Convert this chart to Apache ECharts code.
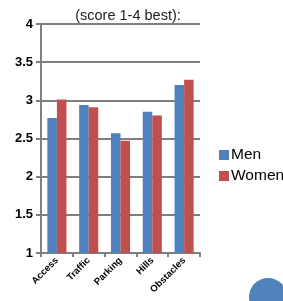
<!DOCTYPE html>
<html><head><meta charset="utf-8">
<script src="https://cdn.jsdelivr.net/npm/echarts@6/dist/echarts.min.js"></script>
<style>html,body{margin:0;padding:0;background:#fff}#c{width:283px;height:301px}</style>
</head><body><div id="c"></div>
<script>
const categories = ['Access', 'Traffic', 'Parking', 'Hills', 'Obstacles'];
const men = [2.77, 2.94, 2.57, 2.85, 3.20];
const women = [3.01, 2.91, 2.47, 2.80, 3.27];
const seriesNames = ['Men', 'Women'];
const titleText = '(score 1-4 best):';

const chart = echarts.init(document.getElementById('c'), null, {renderer: 'canvas'});
const font = 'Liberation Sans, Arial, sans-serif';
chart.setOption({
  animation: false,
  title: {text: titleText, left: 123, top: 3, textAlign: 'center',
    textStyle: {fontFamily: font, fontSize: 14.5, fontWeight: 'normal', color: '#222'}},
  legend: {orient: 'vertical', left: 214, top: 142, itemWidth: 10, itemHeight: 10, itemGap: 5,
    icon: 'rect', data: seriesNames,
    textStyle: {fontFamily: font, fontSize: 15.5, color: '#000', padding: [0,0,0,-3]}},
  grid: {left: 41, right: 83, top: 24, bottom: 48, containLabel: false},
  xAxis: {type: 'category', data: categories,
    axisLine: {lineStyle: {color: '#7f7f7f', width: 2}},
    axisTick: {show: true, length: 4, lineStyle: {color: '#7f7f7f', width: 2}},
    axisLabel: {rotate: 45, fontFamily: font, fontSize: 9.5, fontWeight: 'bold', color: '#000', margin: 6}},
  yAxis: {type: 'value', min: 1, max: 4, interval: 0.5,
    axisLine: {show: true, lineStyle: {color: '#7f7f7f', width: 2}},
    axisTick: {show: true, length: 5, lineStyle: {color: '#7f7f7f', width: 2}},
    splitLine: {lineStyle: {color: '#7f7f7f', width: 2}},
    axisLabel: {fontFamily: font, fontSize: 13, fontWeight: 'bold', color: '#000', margin: 8}},
  series: [
    {name: seriesNames[0], type: 'bar', data: men, barGap: '0%', barCategoryGap: '40%',
      itemStyle: {color: '#4F81BD'}},
    {name: seriesNames[1], type: 'bar', data: women, barGap: '0%', barCategoryGap: '40%',
      itemStyle: {color: '#C0504D'}}
  ],
  graphic: [{type: 'circle', shape: {cx: 268, cy: 297, r: 19}, style: {fill: '#4F81BD'}}]
});
</script></body></html>
